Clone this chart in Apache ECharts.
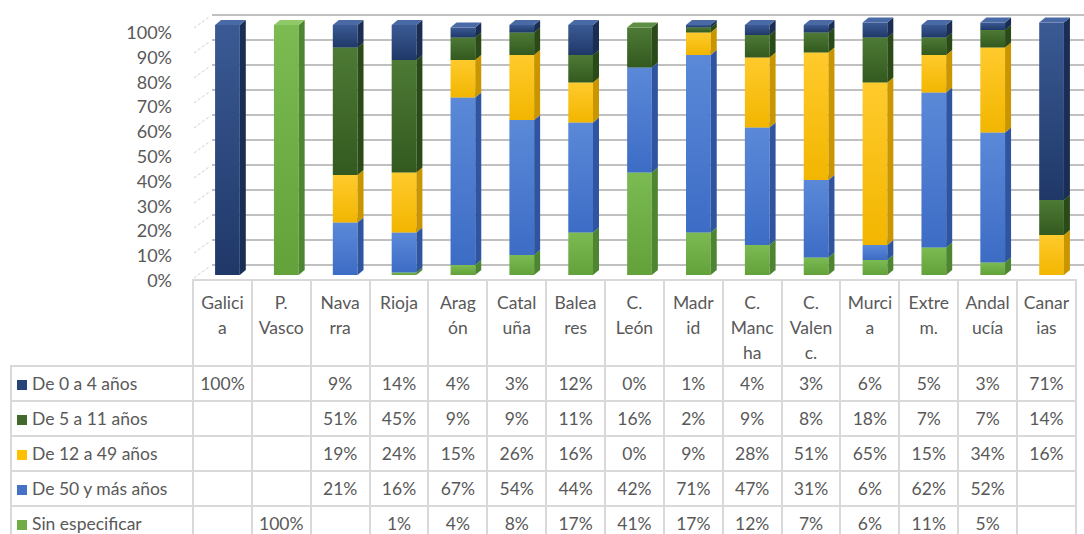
<!DOCTYPE html>
<html><head><meta charset="utf-8">
<script src="https://cdn.jsdelivr.net/npm/echarts@6/dist/echarts.min.js"></script>
<style>
html,body{margin:0;padding:0;background:#fff;width:1084px;height:534px;overflow:hidden;}
#chart{position:absolute;left:0;top:0;width:1084px;height:534px;}
#tbl{position:absolute;left:10px;top:279px;border-collapse:collapse;table-layout:fixed;font-family:Lato,"Open Sans",sans-serif;font-size:17.5px;color:#595959;}
#tbl td{border:2px solid #d9d9d9;text-align:center;padding:0;white-space:nowrap;box-sizing:border-box;}
#tbl tr.hd td{height:86px;vertical-align:top;line-height:25px;padding-top:9px;}
#tbl tr.dt td{height:35px;vertical-align:middle;line-height:20px;}
#tbl td.lg{text-align:left;padding-left:5px;}
#tbl td.blank{border:none;}
.sq{display:inline-block;width:10px;height:10px;margin-right:5px;vertical-align:0px;}
</style></head>
<body>
<div id="chart"></div>
<table id="tbl"></table>
<script>
// ---- data ----
const categories = ['Galicia','P. Vasco','Navarra','Rioja','Aragón','Cataluña','Baleares','C. León','Madrid','C. Mancha','C. Valenc.','Murcia','Extrem.','Andalucía','Canarias'];
const headerLabels = ['Galici\na','P.\nVasco','Nava\nrra','Rioja','Arag\nón','Catal\nuña','Balea\nres','C.\nLeón','Madr\nid','C.\nManc\nha','C.\nValen\nc.','Murci\na','Extre\nm.','Andal\nucía','Canar\nias'];
const seriesNames = ['De 0 a 4 años','De 5 a 11 años','De 12 a 49 años','De 50 y más años','Sin especificar'];
const age0to4   = [100,null,9,14,4,3,12,0,1,4,3,6,5,3,71];
const age5to11  = [null,null,51,45,9,9,11,16,2,9,8,18,7,7,14];
const age12to49 = [null,null,19,24,15,26,16,0,9,28,51,65,15,34,16];
const age50plus = [null,null,21,16,67,54,44,42,71,47,31,6,62,52,null];
const sinEspec  = [null,100,null,1,4,8,17,41,17,12,7,6,11,5,null];
const yTicks = [0,10,20,30,40,50,60,70,80,90,100];

// ---- styles ----
const legendColors = ['#264478','#43682b','#ffc000','#4472c4','#70ad47'];
const shades = [
  {ft:'#3b5a94',fb:'#1f3868',side:'#1a2d52',top:'#4a6aa5'},
  {ft:'#4d7a35',fb:'#33591f',side:'#2a4a18',top:'#5f8f44'},
  {ft:'#ffca2c',fb:'#f2b600',side:'#c99600',top:'#ffd550'},
  {ft:'#5b89d8',fb:'#3d6cc6',side:'#2f55a0',top:'#7099e0'},
  {ft:'#7bbb52',fb:'#63a13b',side:'#4e8530',top:'#8fc968'}
];
const seriesData = [age0to4, age5to11, age12to49, age50plus, sinEspec];

// stacking bottom -> top: Sin, 50+, 12-49, 5-11, 0-4
const stackOrder = [4,3,2,1,0];
const base = categories.map(()=>0);
const segs = {};
stackOrder.forEach(si=>{
  segs[si] = categories.map((c,i)=>{
    const v = seriesData[si][i] || 0;
    const b = base[i]; base[i] += v;
    return [i, b, b+v];
  });
});

function makeRender(si){
  const s = shades[si];
  return function(params, api){
    const idx = api.value(0), b = api.value(1), t = api.value(2);
    if (!(t > b)) return null;
    const pb = api.coord([idx, b]), pt = api.coord([idx, t]);
    const w = api.size([1,0])[0]*0.42;
    const x0 = pb[0] - w/2 + 6, x1 = x0 + w;
    const dx = 6, dy = -5;
    return {type:'group', children:[
      {type:'rect', shape:{x:x0,y:pt[1],width:w,height:pb[1]-pt[1]},
       style:{fill:new echarts.graphic.LinearGradient(0,0,0,1,[{offset:0,color:s.ft},{offset:1,color:s.fb}])}},
      {type:'polygon', shape:{points:[[x1,pb[1]],[x1,pt[1]],[x1+dx,pt[1]+dy],[x1+dx,pb[1]+dy]]}, style:{fill:s.side}},
      {type:'polygon', shape:{points:[[x0,pt[1]],[x1,pt[1]],[x1+dx,pt[1]+dy],[x0+dx,pt[1]+dy]]}, style:{fill:s.top}}
    ]};
  };
}

const chart = echarts.init(document.getElementById('chart'), null, {renderer:'svg'});
const option = {
  animation:false,
  grid:[
    {left:192, right:9, top:25, bottom:259, outerBoundsMode:'none'},
    {left:192, right:9, top:32, bottom:254, outerBoundsMode:'none'}
  ],
  xAxis:[
    {type:'category', gridIndex:0, data:categories, show:false, boundaryGap:true},
    {type:'value', gridIndex:1, min:0, max:1, show:false}
  ],
  yAxis:[
    {type:'value', gridIndex:0, min:0, max:100, interval:10, show:false},
    {type:'value', gridIndex:1, min:0, max:100, interval:10,
     axisLine:{show:false}, axisTick:{show:false}, splitLine:{show:false},
     axisLabel:{margin:20, color:'#595959', fontSize:18, fontFamily:'Lato, sans-serif', formatter:v=>v+'%'}}
  ],
  series: stackOrder.map(si=>({
    type:'custom', name:seriesNames[si], xAxisIndex:0, yAxisIndex:0, z:2,
    renderItem:makeRender(si), data:segs[si], encode:{x:0,y:[1,2]}, clip:false
  }))
};
chart.setOption(option);

// back-wall gridlines: bar grid's scales, pushed back by the 3D depth
const c0 = chart.convertToPixel({xAxisIndex:0}, categories[0]);
const cN = chart.convertToPixel({xAxisIndex:0}, categories[categories.length-1]);
const col = (cN - c0) / (categories.length - 1);
const xl = c0 - col/2 + 20, xr = cN + col/2 + 9;
const wall = [];
yTicks.forEach(v=>{
  const y = Math.round(chart.convertToPixel({yAxisIndex:0}, v)) - 10;
  wall.push({type:'rect', z:0, silent:true, shape:{x:xl, y:y-1, width:xr-xl, height:2}, style:{fill:'#c0c0c0'}});
  wall.push({type:'line', z:0, silent:true, shape:{x1:xl-18, y1:y+13, x2:xl-3, y2:y+2}, style:{stroke:'#d0d0d0', lineWidth:1, lineDash:[3,2]}});
});
chart.setOption({graphic:{elements:wall}});

// ---- data table ----
const tbl = document.getElementById('tbl');
const colW = (1084-192-9)/categories.length;
let html = '<colgroup><col style="width:182px">' + categories.map(()=>'<col style="width:'+colW.toFixed(2)+'px">').join('') + '</colgroup>';
html += '<tr class="hd"><td class="blank"></td>' + headerLabels.map(l=>'<td>'+l.split('\n').join('<br>')+'</td>').join('') + '</tr>';
seriesNames.forEach((n,si)=>{
  html += '<tr class="dt"><td class="lg"><span class="sq" style="background:'+legendColors[si]+'"></span>'+n+'</td>' +
    seriesData[si].map(v=>'<td>'+(v===null?'':v+'%')+'</td>').join('') + '</tr>';
});
tbl.innerHTML = html;
</script>
</body></html>
